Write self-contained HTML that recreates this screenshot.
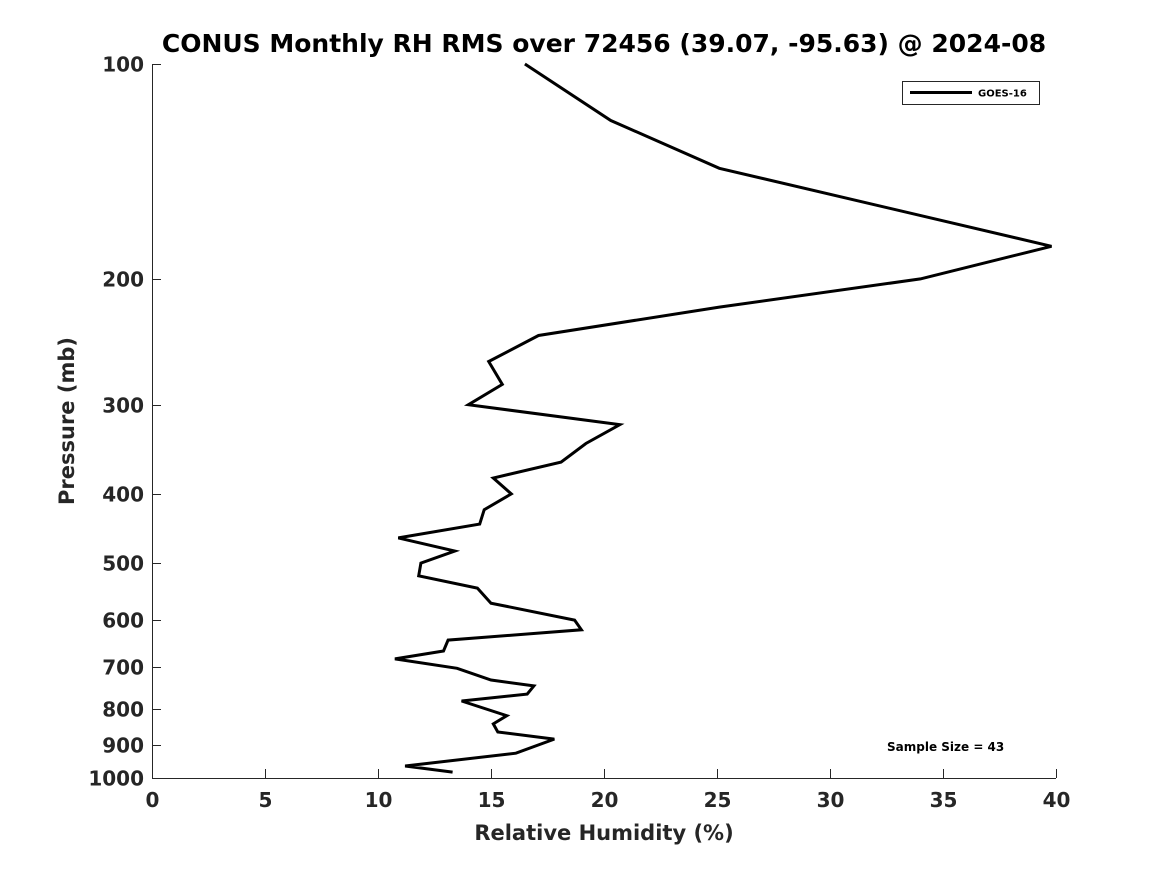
<!DOCTYPE html>
<html><head><meta charset="utf-8"><style>
html,body{margin:0;padding:0;background:#fff;}
svg{display:block;font-family:"DejaVu Sans","Liberation Sans",sans-serif;font-weight:bold;}
</style></head><body>
<svg id="chart" width="1167" height="875" viewBox="0 0 1167 875" xmlns="http://www.w3.org/2000/svg">
<rect width="1167" height="875" fill="#fff"/>
<text x="604" y="52" text-anchor="middle" font-size="25" fill="#000">CONUS Monthly RH RMS over 72456 (39.07, -95.63) @ 2024-08</text>
<g id="axes"></g>
<g id="series"></g>
<text x="604" y="840" text-anchor="middle" font-size="21" fill="#262626">Relative Humidity (%)</text>
<text transform="translate(74,421) rotate(-90)" text-anchor="middle" font-size="21" fill="#262626">Pressure (mb)</text>
<g>
<rect x="902.5" y="81.5" width="137" height="23" fill="#fff" stroke="#262626" stroke-width="1"/>
<line x1="910" y1="92.5" x2="972" y2="92.5" stroke="#000" stroke-width="3"/>
<text x="978" y="96.5" font-size="10" fill="#000">GOES-16</text>
</g>
<text x="887" y="751" font-size="12" fill="#000">Sample Size = 43</text>
</svg>
<script>
const rhValues=[16.5,20.3,25.1,39.8,34.0,25.1,17.1,14.9,15.5,14.0,20.7,19.2,18.1,15.1,15.9,14.7,14.5,10.9,13.4,11.9,11.8,14.4,15.0,18.7,19.0,13.1,12.9,10.75,13.5,15.0,16.9,16.6,13.7,15.7,15.1,15.3,17.8,16.1,11.2,13.3];
const pressures=[100,120,140,180,200,219,240,261,281,300,320,340,361,380,400,421,441,461,481,500,521,542,569,601,620,641,664,681,702,729,743,763,780,818,840,862,882,923,962,981];
const xTicks=[0,5,10,15,20,25,30,35,40];
const yTicks=[100,200,300,400,500,600,700,800,900,1000];
const X0=152,X1=1056,Y0=64,Y1=778,XMIN=0,XMAX=40,PMIN=100,PMAX=1000;
const xs=v=>X0+(v-XMIN)/(XMAX-XMIN)*(X1-X0);
const ys=p=>Y0+Math.log10(p/PMIN)/Math.log10(PMAX/PMIN)*(Y1-Y0);
const NS="http://www.w3.org/2000/svg";
const axes=document.getElementById('axes');
function mk(tag,attrs,parent){const e=document.createElementNS(NS,tag);for(const k in attrs)e.setAttribute(k,attrs[k]);parent.appendChild(e);return e;}
const xl=mk('line',{x1:X0,y1:Y1+0.5,x2:X1,y2:Y1+0.5,stroke:'#262626','stroke-width':1},axes);


const yl=mk('line',{x1:X0+0.5,y1:Y0,x2:X0+0.5,y2:Y1,stroke:'#262626','stroke-width':1},axes);


xTicks.forEach(t=>{
  const x=Math.round(xs(t))+0.5;
  mk('line',{x1:x,y1:Y1,x2:x,y2:Y1-9,stroke:'#262626','stroke-width':1},axes);
  const tx=mk('text',{x:x,y:Y1+29,'text-anchor':'middle','font-size':20,fill:'#262626'},axes);
  tx.textContent=t;
  
  
});
yTicks.forEach(t=>{
  const y=Math.round(ys(t))+0.5;
  mk('line',{x1:X0,y1:y,x2:X0+9,y2:y,stroke:'#262626','stroke-width':1},axes);
  const tx=mk('text',{x:X0-8,y:y+7,'text-anchor':'end','font-size':20,fill:'#262626'},axes);
  tx.textContent=t;
  
  
});
const pts=rhValues.map((v,i)=>xs(v).toFixed(1)+','+ys(pressures[i]).toFixed(1)).join(' ');
const pl=mk('polyline',{points:pts,fill:'none',stroke:'#000','stroke-width':3,'stroke-linejoin':'miter'},document.getElementById('series'));


</script>
</body></html>
